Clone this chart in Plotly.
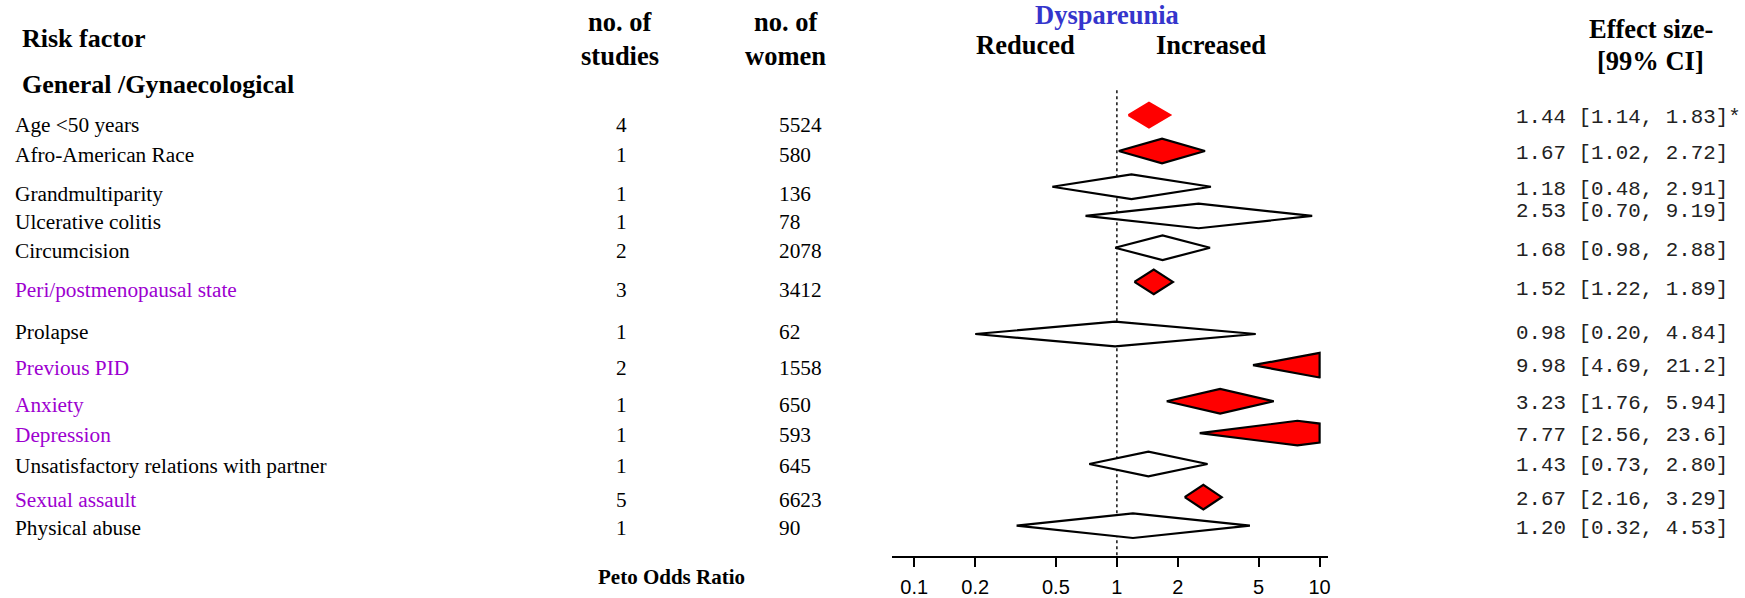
import math
import plotly.graph_objects as go

# ---- data -------------------------------------------------------------
risk_factors = [
    "Age <50 years", "Afro-American Race", "Grandmultiparity", "Ulcerative colitis",
    "Circumcision", "Peri/postmenopausal state", "Prolapse", "Previous PID",
    "Anxiety", "Depression", "Unsatisfactory relations with partner",
    "Sexual assault", "Physical abuse",
]
n_studies = [4, 1, 1, 1, 2, 3, 1, 2, 1, 1, 1, 5, 1]
n_women = [5524, 580, 136, 78, 2078, 3412, 62, 1558, 650, 593, 645, 6623, 90]
odds_ratio = [1.44, 1.67, 1.18, 2.53, 1.68, 1.52, 0.98, 9.98, 3.23, 7.77, 1.43, 2.67, 1.20]
ci_low = [1.14, 1.02, 0.48, 0.70, 0.98, 1.22, 0.20, 4.69, 1.76, 2.56, 0.73, 2.16, 0.32]
ci_high = [1.83, 2.72, 2.91, 9.19, 2.88, 1.89, 4.84, 21.2, 5.94, 23.6, 2.80, 3.29, 4.53]
footnote = ["*", "", "", "", "", "", "", "", "", "", "", "", ""]
tick_values = [0.1, 0.2, 0.5, 1, 2, 5, 10]

# ---- layout / style ---------------------------------------------------
W, H = 1745, 598
AXIS_Y = 558.7                      # pixel row of the x axis line
X_LEFT_PX, X_RIGHT_PX = 893.2, 1330.0
LOG_MIN, LOG_MAX = -1.111, 1.040
CLIP_MAX = 10.0                     # diamonds are cut at the last tick
HALF_H = 12.4                       # diamond half height (px)

label_y = [125.5, 156, 195, 223.5, 252.5, 291.3, 333.5, 370, 406.8, 437.5, 468.7, 503, 531]
stat_y = [117.8, 154, 190, 213, 252, 290.6, 335, 368.6, 406, 437.8, 468, 501.8, 531]
mark_y = [115.7, 151.7, 187.7, 217, 249, 283.3, 335.7, 367, 403.3, 435.3, 466.3, 499.7, 528.3]
highlighted = {"Peri/postmenopausal state", "Previous PID", "Anxiety", "Depression", "Sexual assault"}
no_outline = {"Age <50 years"}

SERIF = "Liberation Serif, Times New Roman, serif"
MONO = "Liberation Mono, Courier New, monospace"
SANS = "Liberation Sans, Arial, sans-serif"
PURPLE = "#9d00d0"
BLUE = "#3535cc"


def px(x):
    return x / W


def py(y):
    return 1 - y / H


def fmt(v):
    return f"{v:.1f}" if v >= 10 else f"{v:.2f}"


def diamond(lo, mid, hi, yc):
    """Polygon of a CI diamond, cut off at CLIP_MAX on the right."""
    l_mid, l_hi, l_cut = (math.log10(v) for v in (mid, hi, CLIP_MAX))
    xs, ys = [lo, mid], [yc, yc - HALF_H]
    if hi > CLIP_MAX:
        frac = 1 - (l_cut - l_mid) / (l_hi - l_mid)
        xs += [CLIP_MAX, CLIP_MAX]
        ys += [yc - HALF_H * frac, yc + HALF_H * frac]
    else:
        xs.append(hi)
        ys.append(yc)
    xs += [mid, lo]
    ys += [yc + HALF_H, yc]
    return xs, ys


fig = go.Figure()

for name, o, lo, hi, yc in zip(risk_factors, odds_ratio, ci_low, ci_high, mark_y):
    xs, ys = diamond(lo, o, hi, yc)
    fill = "#ff0000" if lo > 1 else "#ffffff"
    outline = fill if name in no_outline else "#000000"
    fig.add_trace(go.Scatter(
        x=xs, y=ys, mode="lines", fill="toself", fillcolor=fill,
        line=dict(color=outline, width=2.2), hoverinfo="skip", showlegend=False,
    ))

# line of no effect
fig.add_shape(type="line", xref="x", yref="y", x0=1, x1=1, y0=90.7, y1=AXIS_Y,
              line=dict(color="black", width=1.4, dash="dot"), layer="below")

ann = []


def text(x, y, s, size, font=SERIF, color="black", anchor="left", bold=False):
    if bold:
        s = f"<b>{s}</b>"
    ann.append(dict(x=px(x), y=py(y), xref="paper", yref="paper", text=s,
                    showarrow=False, xanchor=anchor, yanchor="middle",
                    font=dict(family=font, size=size, color=color)))


# headers
text(20, 39, "Risk factor", 26, bold=True)
text(20, 84.6, "General /Gynaecological", 26, bold=True)
text(621, 22.5, "no. of", 26.5, anchor="center", bold=True)
text(621, 56.5, "studies", 26.5, anchor="center", bold=True)
text(787, 22.5, "no. of", 26.5, anchor="center", bold=True)
text(787, 56.5, "women", 26.5, anchor="center", bold=True)
text(1109, 15.5, "Dyspareunia", 26.5, color=BLUE, anchor="center", bold=True)
text(1027, 45.5, "Reduced", 26.5, anchor="center", bold=True)
text(1213, 45.5, "Increased", 26.5, anchor="center", bold=True)
text(1654, 29, "Effect size-", 26.5, anchor="center", bold=True)
text(1653, 61, "[99% CI]", 26.5, anchor="center", bold=True)
text(673, 580, "Peto Odds Ratio", 21, anchor="center", bold=True)

# table rows
for i, name in enumerate(risk_factors):
    col = PURPLE if name in highlighted else "black"
    text(13.5, label_y[i], name, 21.3, color=col)
    text(623, label_y[i], str(n_studies[i]), 21.3, anchor="center")
    text(778, label_y[i], str(n_women[i]), 21.3)
    stat = f"{fmt(odds_ratio[i])} [{fmt(ci_low[i])}, {fmt(ci_high[i])}]{footnote[i]}"
    text(1516.5, stat_y[i], stat, 20.8, font=MONO, color="#222222")

fig.update_layout(
    width=W, height=H, autosize=False,
    margin=dict(l=0, r=0, t=0, b=0),
    paper_bgcolor="white", plot_bgcolor="white",
    annotations=ann,
    xaxis=dict(
        type="log", range=[LOG_MIN, LOG_MAX],
        domain=[px(X_LEFT_PX), px(X_RIGHT_PX)],
        showgrid=False, zeroline=False,
        showline=True, linecolor="black", linewidth=2,
        ticks="outside", ticklen=9, tickwidth=2, tickcolor="black",
        tickvals=tick_values, ticktext=[f"{v:g}" for v in tick_values],
        tickfont=dict(family=SANS, size=20, color="black"),
        ticklabelstandoff=3,
        fixedrange=True,
    ),
    yaxis=dict(
        range=[AXIS_Y, 0], domain=[1 - AXIS_Y / H, 1],
        visible=False, showgrid=False, zeroline=False, fixedrange=True,
    ),
)

fig.write_html("out.html")
